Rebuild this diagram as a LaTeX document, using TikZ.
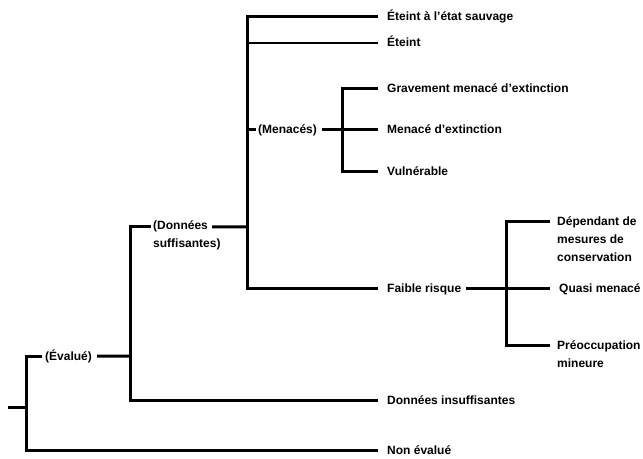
\documentclass[tikz,border=0pt]{standalone}
\usepackage{fontspec}
\setmainfont{Liberation Sans}
\begin{document}
\begin{tikzpicture}[x=1bp,y=-1bp,line join=miter,
  lbl/.style={anchor=base west,inner sep=0pt,font=\fontsize{12bp}{18bp}\selectfont\bfseries},
  thk/.style={line width=3bp},
  thn/.style={line width=1.2bp}]
\useasboundingbox (0,0) rectangle (643,459);
% labels
\node[lbl] (ev)  at (45,360)  {(Évalué)};
\node[lbl] (ds)  at (153,230) {\begin{tabular}[t]{@{}l@{}}(Données\\suffisantes)\end{tabular}};
\node[lbl] (ets) at (387,21)  {Éteint à l'état sauvage};
\node[lbl] (et)  at (387,47)  {Éteint};
\node[lbl] (men) at (258,134) {(Menacés)};
\node[lbl] (gme) at (387,93)  {Gravement menacé d'extinction};
\node[lbl] (mde) at (387,134) {Menacé d'extinction};
\node[lbl] (vul) at (387,176) {Vulnérable};
\node[lbl] (fr)  at (387,293) {Faible risque};
\node[lbl] (dmc) at (557,226) {\begin{tabular}[t]{@{}l@{}}Dépendant de\\mesures de\\conservation\end{tabular}};
\node[lbl] (qm)  at (559,293) {Quasi menacé};
\node[lbl] (pm)  at (557,349) {\begin{tabular}[t]{@{}l@{}}Préoccupation\\mineure\end{tabular}};
\node[lbl] (di)  at (387,404) {Données insuffisantes};
\node[lbl] (ne)  at (387,454) {Non évalué};
% connector ends
\coordinate (r0) at (8,407);
\coordinate (j1) at (26,407);
\coordinate (j2) at (130,356);
\coordinate (j3) at (247,227);
\coordinate (j4) at (342,130);
\coordinate (j5) at (506,289);
\coordinate (evL)  at ([xshift=-3bp,yshift=4bp]ev.base west);
\coordinate (evR)  at ([xshift=5bp,yshift=4bp]ev.base east);
\coordinate (dsL)  at ([xshift=-2bp,yshift=3bp]ds.base west);
\coordinate (dsR)  at ([xshift=59bp,yshift=3bp]ds.base west);
\coordinate (etsL) at ([xshift=-9bp,yshift=4bp]ets.base west);
\coordinate (etL)  at ([xshift=-9bp,yshift=4bp]et.base west);
\coordinate (menL) at ([xshift=-2bp,yshift=4bp]men.base west);
\coordinate (menR) at ([xshift=5bp,yshift=4bp]men.base east);
\coordinate (gmeL) at ([xshift=-9bp,yshift=4bp]gme.base west);
\coordinate (mdeL) at ([xshift=-9bp,yshift=4bp]mde.base west);
\coordinate (vulL) at ([xshift=-9bp,yshift=4bp]vul.base west);
\coordinate (frL)  at ([xshift=-9bp,yshift=4bp]fr.base west);
\coordinate (frR)  at ([xshift=5bp,yshift=4bp]fr.base east);
\coordinate (dmcL) at ([xshift=-7bp,yshift=4bp]dmc.base west);
\coordinate (qmL)  at ([xshift=-9bp,yshift=4bp]qm.base west);
\coordinate (pmL)  at ([xshift=-7bp,yshift=4bp]pm.base west);
\coordinate (diL)  at ([xshift=-9bp,yshift=4bp]di.base west);
\coordinate (neL)  at ([xshift=-9bp,yshift=4bp]ne.base west);
% connectors
\draw[thk] (r0) -- (j1);
\draw[thk] (evL) -| (j1) |- (neL);
\draw[thk] (evR) -- (j2);
\draw[thk] (dsL) -| (j2) |- (diL);
\draw[thk] (dsR) -- (j3);
\draw[thk] (etsL) -| (j3) |- (frL);
\draw[thn] (etL -| j3) -- (etL);
\draw[thk] (menL -| j3) -- (menL);
\draw[thk] (menR) -- (mdeL);
\draw[thk] (gmeL) -| (j4) |- (vulL);
\draw[thk] (frR) -- (qmL);
\draw[thk] (dmcL) -| (j5) |- (pmL);
\end{tikzpicture}
\end{document}
